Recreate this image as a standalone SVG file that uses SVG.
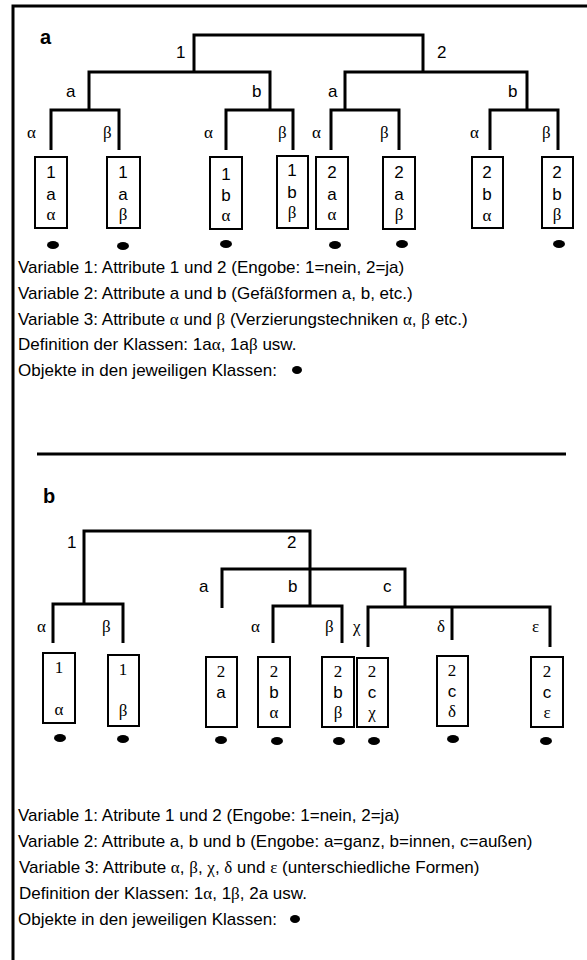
<svg xmlns="http://www.w3.org/2000/svg" width="587" height="960" viewBox="0 0 587 960">
<style>
.ln{stroke:#000;stroke-width:3;fill:none}
.bx{fill:#fff;stroke:#000;stroke-width:2}
.t{font-family:"Liberation Sans",Arial,sans-serif;font-size:17px;fill:#000}
.c{text-anchor:middle}
.g{font-family:"Liberation Serif","Times New Roman",serif;font-size:17px;fill:#000}
.h{font-family:"Liberation Sans",Arial,sans-serif;font-size:20px;font-weight:bold;fill:#000}
.d{fill:#000}
</style>
<rect width="587" height="960" fill="#fff"/>
<g id="frame">
<path class="ln" d="M13,960 V6 H587"/>
<path class="ln" d="M37,454 H566"/>
</g>
<g id="connectors">
<path class="ln" d="M194,73 V35 H423 V73"/>
<path class="ln" d="M89,110 V72 H270 V110"/>
<path class="ln" d="M345,110 V72 H527 V110"/>
<path class="ln" d="M51,150 V110 H119 V150"/>
<path class="ln" d="M226,150 V110 H293 V150"/>
<path class="ln" d="M331,150 V110 H399 V150"/>
<path class="ln" d="M490,150 V110 H558 V150"/>
<path class="ln" d="M84,605 V531 H310 V607"/>
<path class="ln" d="M222,608 V569 H405 V607"/>
<path class="ln" d="M53,643 V604 H123 V643"/>
<path class="ln" d="M273,643 V606 H342 V643"/>
<path class="ln" d="M368,647 V607 H550 V647"/>
<path class="ln" d="M452,607 V640"/>
</g>
<g id="labels-a">
<text class="h" x="40" y="44">a</text>
<text class="t" x="176" y="58">1</text>
<text class="t" x="437" y="58">2</text>
<text class="t" x="66" y="97">a</text>
<text class="t" x="252" y="97">b</text>
<text class="t" x="328" y="97">a</text>
<text class="t" x="508" y="97">b</text>
<text class="g" x="27" y="138">α</text>
<text class="g" x="103" y="138">β</text>
<text class="g" x="204" y="138">α</text>
<text class="g" x="278" y="138">β</text>
<text class="g" x="312" y="138">α</text>
<text class="g" x="380" y="138">β</text>
<text class="g" x="470" y="138">α</text>
<text class="g" x="542" y="138">β</text>
</g>
<g id="n-1aa"><rect class="bx" x="35" y="157" width="32" height="71"/><text class="t c" x="51" y="178">1</text><text class="t c" x="51" y="200">a</text><text class="g c" x="51" y="220">α</text><ellipse class="d" cx="53" cy="245" rx="6" ry="4"/></g>
<g id="n-1ab"><rect class="bx" x="107" y="157" width="33" height="71"/><text class="t c" x="123" y="178">1</text><text class="t c" x="123" y="200">a</text><text class="g c" x="123" y="220">β</text><ellipse class="d" cx="123" cy="246" rx="6" ry="4"/></g>
<g id="n-1ba"><rect class="bx" x="210" y="157" width="32" height="72"/><text class="t c" x="226" y="180">1</text><text class="t c" x="226" y="201">b</text><text class="g c" x="226" y="221">α</text><ellipse class="d" cx="226" cy="244" rx="6" ry="4"/></g>
<g id="n-1bb"><rect class="bx" x="277" y="156" width="31" height="72"/><text class="t c" x="292" y="176">1</text><text class="t c" x="292" y="198">b</text><text class="g c" x="292" y="218">β</text></g>
<g id="n-2aa"><rect class="bx" x="316" y="157" width="32" height="72"/><text class="t c" x="332" y="178">2</text><text class="t c" x="332" y="200">a</text><text class="g c" x="332" y="220">α</text><ellipse class="d" cx="335" cy="245" rx="6" ry="4"/></g>
<g id="n-2ab"><rect class="bx" x="383" y="157" width="32" height="72"/><text class="t c" x="399" y="178">2</text><text class="t c" x="399" y="200">a</text><text class="g c" x="399" y="220">β</text><ellipse class="d" cx="402" cy="244" rx="6" ry="4"/></g>
<g id="n-2ba"><rect class="bx" x="472" y="157" width="31" height="71"/><text class="t c" x="487" y="178">2</text><text class="t c" x="487" y="200">b</text><text class="g c" x="487" y="221">α</text></g>
<g id="n-2bb"><rect class="bx" x="542" y="157" width="31" height="71"/><text class="t c" x="557" y="178">2</text><text class="t c" x="557" y="200">b</text><text class="g c" x="557" y="220">β</text><ellipse class="d" cx="559" cy="244" rx="6" ry="4"/></g>
<g id="legend-a">
<text class="t" x="18" y="273">Variable 1: Attribute 1 und 2 (Engobe: 1=nein, 2=ja)</text>
<text class="t" x="18" y="299">Variable 2: Attribute a und b (Gefäßformen a, b, etc.)</text>
<text class="t" x="18" y="325">Variable 3: Attribute <tspan class="g">α</tspan> und <tspan class="g">β</tspan> (Verzierungstechniken <tspan class="g">α</tspan>, <tspan class="g">β</tspan> etc.)</text>
<text class="t" x="18" y="350">Definition der Klassen: 1a<tspan class="g">α</tspan>, 1a<tspan class="g">β</tspan> usw.</text>
<text class="t" x="18" y="376">Objekte in den jeweiligen Klassen:</text>
<ellipse class="d" cx="297" cy="370" rx="5" ry="4"/>
</g>
<g id="labels-b">
<text class="h" x="43" y="503">b</text>
<text class="t" x="67" y="548">1</text>
<text class="t" x="287" y="548">2</text>
<text class="t" x="199" y="592">a</text>
<text class="t" x="288" y="592">b</text>
<text class="t" x="383" y="592">c</text>
<text class="g" x="37" y="632">α</text>
<text class="g" x="102" y="632">β</text>
<text class="g" x="251" y="632">α</text>
<text class="g" x="325" y="632">β</text>
<text class="g" x="353" y="632">χ</text>
<text class="g" x="437" y="632">δ</text>
<text class="g" x="532" y="632">ε</text>
</g>
<g id="n-1a"><rect class="bx" x="43" y="653" width="32" height="70"/><text class="g c" x="59" y="673">1</text><text class="g c" x="59" y="715">α</text><ellipse class="d" cx="60" cy="738" rx="6" ry="4"/></g>
<g id="n-1b"><rect class="bx" x="108" y="655" width="31" height="71"/><text class="g c" x="123" y="675">1</text><text class="g c" x="123" y="716">β</text><ellipse class="d" cx="123" cy="739" rx="6" ry="4"/></g>
<g id="n-2a"><rect class="bx" x="206" y="657" width="31" height="70"/><text class="g c" x="221" y="677">2</text><text class="t c" x="221" y="698">a</text><ellipse class="d" cx="221" cy="740" rx="6" ry="4"/></g>
<g id="n-2ba2"><rect class="bx" x="258" y="657" width="32" height="70"/><text class="g c" x="274" y="677">2</text><text class="t c" x="274" y="698">b</text><text class="g c" x="274" y="718">α</text><ellipse class="d" cx="277" cy="741" rx="6" ry="4"/></g>
<g id="n-2bb2"><rect class="bx" x="322" y="657" width="32" height="70"/><text class="g c" x="338" y="677">2</text><text class="t c" x="338" y="698">b</text><text class="g c" x="338" y="718">β</text><ellipse class="d" cx="339" cy="741" rx="6" ry="4"/></g>
<g id="n-2cx"><rect class="bx" x="357" y="658" width="31" height="69"/><text class="g c" x="372" y="677">2</text><text class="t c" x="372" y="698">c</text><text class="g c" x="372" y="718">χ</text><ellipse class="d" cx="374" cy="741" rx="6" ry="4"/></g>
<g id="n-2cd"><rect class="bx" x="437" y="656" width="31" height="70"/><text class="g c" x="452" y="676">2</text><text class="t c" x="452" y="697">c</text><text class="g c" x="452" y="717">δ</text><ellipse class="d" cx="453" cy="739" rx="6" ry="4"/></g>
<g id="n-2ce"><rect class="bx" x="531" y="657" width="32" height="70"/><text class="g c" x="547" y="677">2</text><text class="t c" x="547" y="698">c</text><text class="g c" x="547" y="718">ε</text><ellipse class="d" cx="546" cy="741" rx="6" ry="4"/></g>
<g id="legend-b">
<text class="t" x="18" y="821">Variable 1: Atribute 1 und 2 (Engobe: 1=nein, 2=ja)</text>
<text class="t" x="18" y="847">Variable 2: Attribute a, b und b (Engobe: a=ganz, b=innen, c=außen)</text>
<text class="t" x="19" y="873">Variable 3: Attribute <tspan class="g">α</tspan>, <tspan class="g">β</tspan>, <tspan class="g">χ</tspan>, <tspan class="g">δ</tspan> und <tspan class="g">ε</tspan> (unterschiedliche Formen)</text>
<text class="t" x="19" y="899">Definition der Klassen: 1<tspan class="g">α</tspan>, 1<tspan class="g">β</tspan>, 2a usw.</text>
<text class="t" x="18" y="925">Objekte in den jeweiligen Klassen:</text>
<ellipse class="d" cx="295" cy="919" rx="5" ry="4"/>
</g>
</svg>
